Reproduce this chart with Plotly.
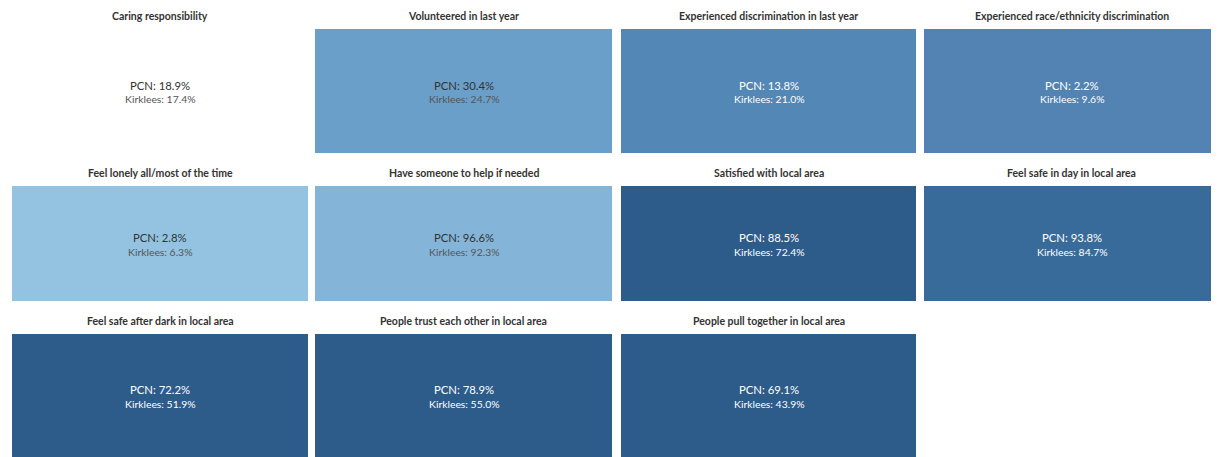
import plotly.graph_objects as go

# ---- data ----
titles = [
    "Caring responsibility",
    "Volunteered in last year",
    "Experienced discrimination in last year",
    "Experienced race/ethnicity discrimination",
    "Feel lonely all/most of the time",
    "Have someone to help if needed",
    "Satisfied with local area",
    "Feel safe in day in local area",
    "Feel safe after dark in local area",
    "People trust each other in local area",
    "People pull together in local area",
]
pcn = [18.9, 30.4, 13.8, 2.2, 2.8, 96.6, 88.5, 93.8, 72.2, 78.9, 69.1]
kirklees = [17.4, 24.7, 21.0, 9.6, 6.3, 92.3, 72.4, 84.7, 51.9, 55.0, 43.9]

# ---- layout geometry (pixels, page offset of 8px removed) ----
OFF = 8
W, H = 1219 - OFF, 457 - OFF
col_px = [(12, 308), (315, 612), (621, 916), (924, 1219)]
row_px = [(29, 153), (186, 301), (334, 457)]

colorscale = [
    [0.0, "#ffffff"], [0.2, "#ffffff"], [0.35, "#93c3e1"], [0.43, "#84b5d9"],
    [0.57, "#6a9fc9"], [0.72, "#5387b5"], [0.74, "#5283b3"], [0.91, "#386b9a"],
    [1.0, "#2d5c8a"],
]

FONT = "Lato"
fig = go.Figure()
annotations = []
layout_axes = {}

for i, title in enumerate(titles):
    r, c = divmod(i, 4)
    x0, x1 = (v - OFF for v in col_px[c])
    y0, y1 = (v - OFF for v in row_px[r])
    n = i + 1
    xa = "x" if n == 1 else f"x{n}"
    ya = "y" if n == 1 else f"y{n}"
    diff = abs(pcn[i] - kirklees[i])
    fig.add_trace(go.Heatmap(
        z=[[diff]], x=[0], y=[0], xaxis=xa, yaxis=ya,
        coloraxis="coloraxis", hoverinfo="skip",
    ))
    xkey = "xaxis" if n == 1 else f"xaxis{n}"
    ykey = "yaxis" if n == 1 else f"yaxis{n}"
    layout_axes[xkey] = dict(domain=[max(x0, 0) / W, min(x1, W) / W], range=[-0.5, 0.5],
                             visible=False, fixedrange=True, anchor=ya)
    layout_axes[ykey] = dict(domain=[1 - min(y1, H) / H, 1 - y0 / H], range=[-0.5, 0.5],
                             visible=False, fixedrange=True, anchor=xa)
    dark = diff > 6.5
    main_col = "#ffffff" if dark else "#333333"
    sub_col = "#ffffff" if dark else "#555555"
    xc = (x0 + x1) / 2 / W
    yc = 1 - (y0 + y1) / 2 / H
    annotations.append(dict(
        x=xc, y=1 - (y0 - 13) / H, xref="paper", yref="paper",
        text=title, showarrow=False, xanchor="center", yanchor="middle",
        font=dict(family=FONT, size=10.5, color="#333333", weight=700),
    ))
    annotations.append(dict(
        x=xc, y=yc + 6 / H, xref="paper", yref="paper",
        text=f"PCN: {pcn[i]:.1f}%", showarrow=False, xanchor="center", yanchor="middle",
        font=dict(family=FONT, size=11.3, color=main_col),
    ))
    annotations.append(dict(
        x=xc, y=yc - 8 / H, xref="paper", yref="paper",
        text=f"Kirklees: {kirklees[i]:.1f}%", showarrow=False, xanchor="center", yanchor="middle",
        font=dict(family=FONT, size=10.4, color=sub_col),
    ))

fig.update_layout(
    width=W, height=H,
    margin=dict(l=0, r=0, t=0, b=0),
    paper_bgcolor="#ffffff", plot_bgcolor="#ffffff",
    coloraxis=dict(colorscale=colorscale, cmin=0, cmax=10, showscale=False),
    annotations=annotations,
    showlegend=False,
    **layout_axes,
)

fig.write_html("out.html", config={"displayModeBar": False})
